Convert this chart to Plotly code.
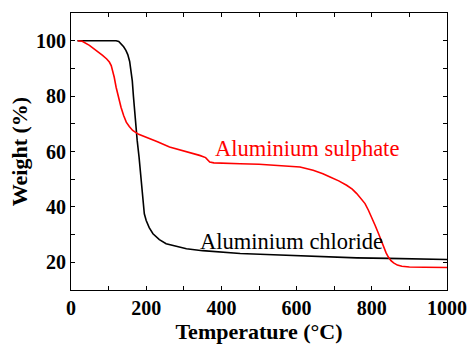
import plotly.graph_objects as go

chloride_T = [17, 60, 100, 120, 127, 133, 140, 146, 151, 156, 160, 163, 166, 169, 172, 176, 181, 185, 188, 191, 195, 200, 208, 218, 235, 253, 280, 307, 350, 395, 450, 520, 613, 689, 760, 844, 920, 1000]
chloride_W = [100, 100, 100, 100, 99.7, 98.9, 97.8, 96.5, 95, 92.5, 89.3, 85.5, 80, 74.5, 69.5, 64, 58, 52, 46, 41, 37.5, 35.1, 32.5, 30.3, 28.2, 26.7, 25.7, 24.9, 24.2, 23.7, 23.2, 22.8, 22.3, 21.9, 21.6, 21.4, 21.2, 21.0]

sulphate_T = [18, 30, 49, 65, 84, 95, 102, 107, 111, 115, 120, 126, 133, 140, 147, 155, 164, 180, 200, 230, 262, 300, 342, 358, 369, 380, 395, 450, 500, 555, 609, 644, 670, 689, 712, 733, 748, 760, 771, 782, 791, 800, 809, 818, 825, 831, 838, 844, 851, 858, 868, 880, 900, 940, 1000]
sulphate_W = [100, 99.8, 98.3, 96.8, 94.7, 93.4, 92.3, 91, 89.3, 86.8, 83.2, 79.5, 76, 73, 70.6, 69, 67.6, 66.2, 65.2, 63.5, 61.6, 60.3, 58.6, 57.8, 56.2, 55.9, 55.8, 55.6, 55.4, 55.0, 54.4, 53.2, 52.0, 50.8, 49.4, 47.8, 46.4, 44.8, 43.1, 41.2, 38.8, 36.3, 33.3, 30.3, 27.7, 25.5, 23.4, 21.9, 20.6, 19.8, 19.0, 18.6, 18.3, 18.2, 18.1]

labels = ["Aluminium sulphate", "Aluminium chloride"]

serif = "Liberation Serif"

fig = go.Figure()
fig.add_trace(go.Scatter(x=chloride_T, y=chloride_W, mode="lines",
                         line=dict(color="black", width=1.6)))
fig.add_trace(go.Scatter(x=sulphate_T, y=sulphate_W, mode="lines",
                         line=dict(color="#ff0000", width=1.6)))

fig.add_annotation(x=377, y=61.1, text=labels[0], showarrow=False, xanchor="left", yanchor="middle",
                   font=dict(family=serif, size=22.5, color="#ff0000"))
fig.add_annotation(x=337, y=27.5, text=labels[1], showarrow=False, xanchor="left", yanchor="middle",
                   font=dict(family=serif, size=22.5, color="black"))

axis_common = dict(showline=True, linecolor="black", linewidth=1.2, mirror="ticks",
                   ticks="inside", ticklen=4, tickwidth=1.2, tickcolor="black",
                   showgrid=False, zeroline=False, automargin=False,
                   tickfont=dict(family=serif, size=20, color="black"),
                   minor=dict(ticks="inside", ticklen=4, tickwidth=1.2, tickcolor="black", showgrid=False))

fig.update_xaxes(range=[0, 1000], dtick=200, tick0=0, minor_dtick=100,
                 title=dict(text="<b>Temperature (°C)</b>", font=dict(family=serif, size=22, color="black"), standoff=2),
                 tickprefix="<b>", ticksuffix="</b>", **axis_common)
fig.update_yaxes(range=[10, 110], dtick=20, tick0=0, minor_dtick=10,
                 title=dict(text="<b>Weight (%)</b>", font=dict(family=serif, size=22, color="black"), standoff=2),
                 tickprefix="<b>", ticksuffix="</b>", **axis_common)

fig.update_layout(width=470, height=344, margin=dict(l=71, r=23, t=13, b=54),
                  plot_bgcolor="white", paper_bgcolor="white", showlegend=False)

fig.write_html("out.html")
